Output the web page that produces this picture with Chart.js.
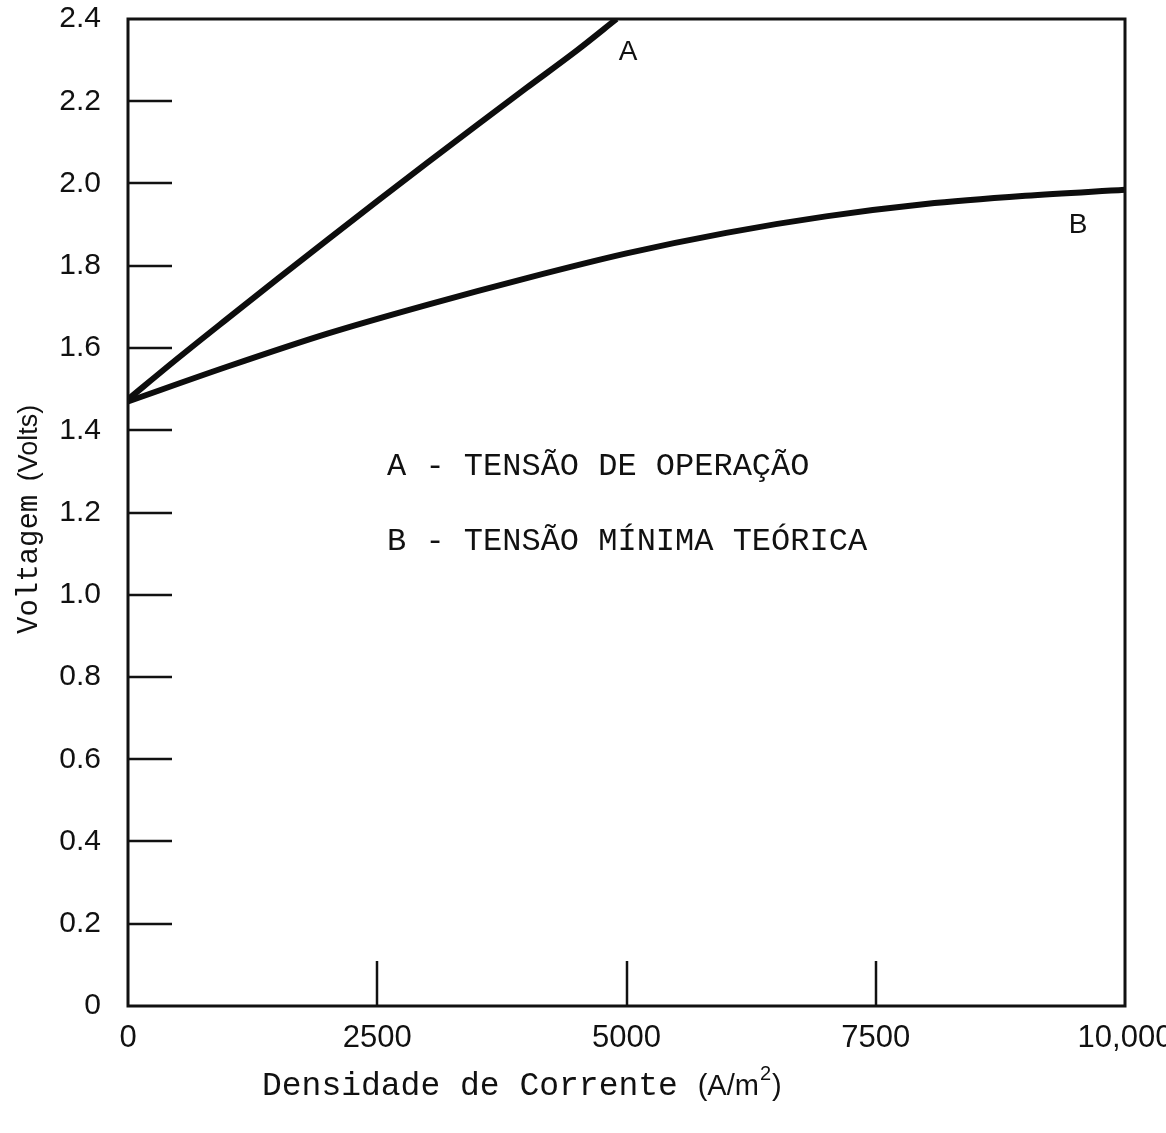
<!DOCTYPE html>
<html lang="pt-br">
<head>
    <meta charset="UTF-8">
    <title>Voltagem x Densidade de Corrente</title>
    <script src="https://cdn.jsdelivr.net/npm/chart.js@4/dist/chart.umd.min.js"></script>
    <style>
        html, body { margin: 0; padding: 0; background: #fff; }
        #grafico { width: 1166px; height: 1133px; }
    </style>
</head>
<body>
    <div id="grafico">
        <canvas id="myChartCanvas"></canvas>
    </div>

<script>
    // densidade de corrente (A/m2)
    var densidadeA = [0, 500, 1000, 1500, 2000, 2500, 3000, 3500, 4000, 4500, 4900];
    var tensaoOperacao = [1.475, 1.575, 1.672, 1.768, 1.863, 1.957, 2.05, 2.142, 2.233, 2.323, 2.40];

    var densidadeB = [0, 1000, 2000, 3000, 4000, 5000, 6000, 7000, 8000, 9000, 10000];
    var tensaoMinima = [1.47, 1.555, 1.635, 1.705, 1.77, 1.83, 1.88, 1.92, 1.95, 1.97, 1.985];

    var ticksX = [0, 2500, 5000, 7500, 10000];
    var rotulosX = ['0', '2500', '5000', '7500', '10,000'];
    var ticksY = [0, 0.2, 0.4, 0.6, 0.8, 1.0, 1.2, 1.4, 1.6, 1.8, 2.0, 2.2, 2.4];
    var rotulosY = ['0', '0.2', '0.4', '0.6', '0.8', '1.0', '1.2', '1.4', '1.6', '1.8', '2.0', '2.2', '2.4'];

    var legendas = ['A - TENSÃO DE OPERAÇÃO', 'B - TENSÃO MÍNIMA TEÓRICA'];

    const fonteMono = '"Courier New", "Liberation Mono", monospace';
    const fonteSans = '"Liberation Sans", Arial, Helvetica, sans-serif';

    function pontos(xs, ys) {
        let lista = [];
        for (let i = 0; i < xs.length; i++) {
            lista.push({ x: xs[i], y: ys[i] });
        }
        return lista;
    }

    // moldura, marcas internas, titulos dos eixos e legendas escritas
    const desenhoExtra = {
        id: 'desenhoExtra',
        afterDraw(chart) {
            const ctx = chart.ctx;
            const area = chart.chartArea;
            const sx = chart.scales.x;
            const sy = chart.scales.y;

            ctx.save();
            ctx.strokeStyle = '#111';
            ctx.lineWidth = 3;
            ctx.strokeRect(area.left, area.top, area.right - area.left, area.bottom - area.top);

            ctx.lineWidth = 2.5;
            ticksY.forEach(function (v) {
                if (v === 0 || v === 2.4) return;
                let py = Math.round(sy.getPixelForValue(v));
                ctx.beginPath();
                ctx.moveTo(area.left, py);
                ctx.lineTo(area.left + 44, py);
                ctx.stroke();
            });
            ticksX.forEach(function (v) {
                if (v === 0 || v === 10000) return;
                let px = Math.round(sx.getPixelForValue(v));
                ctx.beginPath();
                ctx.moveTo(px, area.bottom);
                ctx.lineTo(px, area.bottom - 45);
                ctx.stroke();
            });

            ctx.fillStyle = '#111';

            // rotulos das curvas
            ctx.font = '28px ' + fonteSans;
            ctx.textAlign = 'center';
            ctx.textBaseline = 'middle';
            ctx.fillText('A', sx.getPixelForValue(5015), sy.getPixelForValue(2.32));
            ctx.fillText('B', sx.getPixelForValue(9530), sy.getPixelForValue(1.898));

            // legendas
            ctx.textAlign = 'left';
            ctx.font = '32px ' + fonteMono;
            ctx.fillText(legendas[0], 387, 467);
            ctx.fillText(legendas[1], 387, 542);

            // titulo eixo x
            ctx.textBaseline = 'alphabetic';
            let x0 = 262, base = 1095;
            ctx.font = '33px ' + fonteMono;
            let t1 = 'Densidade de Corrente ';
            ctx.fillText(t1, x0, base);
            x0 += ctx.measureText(t1).width;
            ctx.font = '29px ' + fonteSans;
            ctx.fillText('(A/m', x0, base);
            x0 += ctx.measureText('(A/m').width;
            ctx.font = '20px ' + fonteSans;
            ctx.fillText('2', x0 + 1, base - 15);
            x0 += ctx.measureText('2').width + 2;
            ctx.font = '29px ' + fonteSans;
            ctx.fillText(')', x0, base);

            // titulo eixo y
            ctx.translate(37, 634);
            ctx.rotate(-Math.PI / 2);
            ctx.font = '29px ' + fonteMono;
            let t2 = 'Voltagem ';
            ctx.fillText(t2, 0, 0);
            let y0 = ctx.measureText(t2).width;
            ctx.font = '27px ' + fonteSans;
            ctx.fillText('(Volts)', y0 - 4, 0);
            ctx.restore();
        }
    };

    const dados = {
        datasets: [{
            label: 'A',
            data: pontos(densidadeA, tensaoOperacao),
            borderColor: '#0d0d0d',
            borderWidth: 6,
            pointRadius: 0,
            fill: false,
            cubicInterpolationMode: 'monotone'
        }, {
            label: 'B',
            data: pontos(densidadeB, tensaoMinima),
            borderColor: '#0d0d0d',
            borderWidth: 6,
            pointRadius: 0,
            fill: false,
            cubicInterpolationMode: 'monotone'
        }]
    };

    const config = {
        type: 'line',
        data: dados,
        plugins: [desenhoExtra],
        options: {
            responsive: true,
            maintainAspectRatio: false,
            animation: false,
            layout: { padding: { top: 19, right: 41, left: 0, bottom: 0 } },
            plugins: {
                legend: { display: false },
                tooltip: { enabled: false }
            },
            scales: {
                x: {
                    type: 'linear',
                    min: 0,
                    max: 10000,
                    afterBuildTicks: function (scale) {
                        scale.ticks = ticksX.map(v => ({ value: v }));
                    },
                    afterFit: function (scale) {
                        scale.height = 127;
                        scale.paddingLeft = 0;
                        scale.paddingRight = 0;
                    },
                    grid: { display: false, drawTicks: false },
                    border: { display: false },
                    ticks: {
                        color: '#111',
                        padding: 14,
                        maxRotation: 0,
                        font: { family: fonteSans, size: 31 },
                        callback: function (v) {
                            let i = ticksX.indexOf(v);
                            return i >= 0 ? rotulosX[i] : '';
                        }
                    }
                },
                y: {
                    type: 'linear',
                    min: 0,
                    max: 2.4,
                    afterBuildTicks: function (scale) {
                        scale.ticks = ticksY.map(v => ({ value: v }));
                    },
                    afterFit: function (scale) {
                        scale.width = 128;
                        scale.paddingTop = 0;
                        scale.paddingBottom = 0;
                    },
                    grid: { display: false, drawTicks: false },
                    border: { display: false },
                    ticks: {
                        color: '#111',
                        padding: 27,
                        font: { family: fonteSans, size: 30 },
                        callback: function (v, idx) {
                            return rotulosY[idx];
                        }
                    }
                }
            }
        }
    };

    let myChart = new Chart(document.getElementById('myChartCanvas'), config);
</script>
</body>
</html>
